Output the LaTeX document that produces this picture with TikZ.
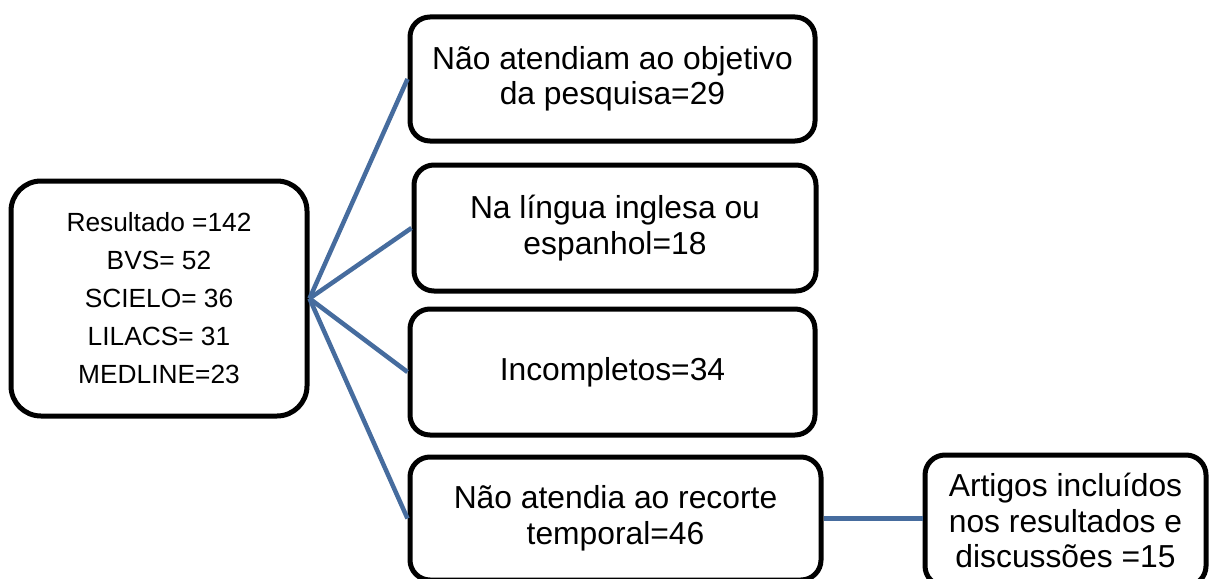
\documentclass[tikz,border=0pt]{standalone}
\usepackage{fontspec}
\setmainfont{Liberation Sans}
\definecolor{linkblue}{RGB}{70,108,158}
\tikzset{
  box/.style={draw=black, line width=5pt, fill=white, rounded corners=20pt, align=center, inner sep=0pt, font=\fontsize{31.8}{35.5}\selectfont},
  mainbox/.style={box, rounded corners=30pt, font=\fontsize{26.3}{38}\selectfont},
  link/.style={draw=linkblue, line width=4.5pt}
}
\begin{document}
\begin{tikzpicture}[x=1pt,y=-1pt]
\useasboundingbox (0,0) rectangle (1209,578);
\node[mainbox, minimum width=296pt, minimum height=235pt] (L) at (159,298.5) {Resultado =142\\BVS= 52\\SCIELO= 36\\LILACS= 31\\MEDLINE=23};
\node[box, minimum width=405pt, minimum height=124pt] (B1) at (612.5,79) {Não atendiam ao objetivo\\da pesquisa=29};
\node[box, minimum width=402pt, minimum height=126pt] (B2) at (615,228) {Na língua inglesa ou\\espanhol=18};
\node[box, minimum width=405pt, minimum height=126pt] (B3) at (612.5,372) {Incompletos=34};
\node[box, minimum width=411pt, minimum height=123pt] (B4) at (615.5,518.5) {Não atendia ao recorte\\temporal=46};
\node[box, minimum width=281pt, minimum height=131pt] (B5) at (1065.5,520.5) {Artigos incluídos\\nos resultados e\\discussões =15};
\draw[link] (L.east) -- (B1.west);
\draw[link] (L.east) -- (B2.west);
\draw[link] (L.east) -- (B3.west);
\draw[link] (L.east) -- (B4.west);
\draw[link] (B4.east) -- (B4.east -| B5.west);
\end{tikzpicture}
\end{document}
